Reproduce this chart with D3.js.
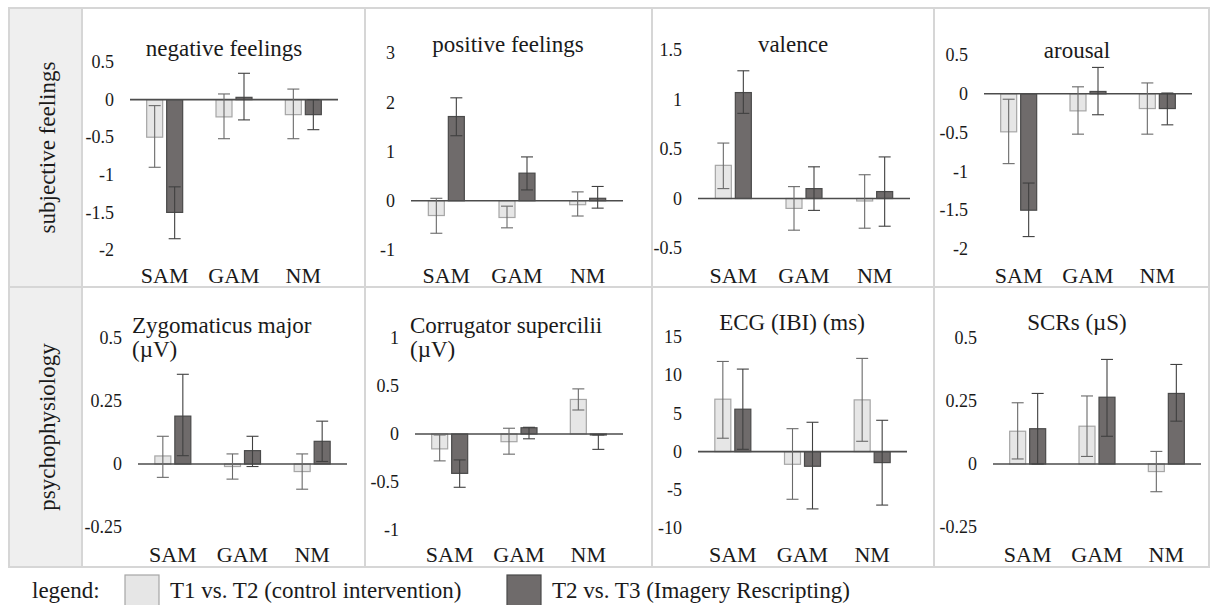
<!DOCTYPE html>
<html>
<head>
<meta charset="utf-8">
<script src="https://cdn.jsdelivr.net/npm/d3@7"></script>
<style>
  body { margin: 0; background: #fff; }
</style>
</head>
<body>
<div id="chart"></div>
<script>
// categorias e séries
const categories = ["SAM", "GAM", "NM"];
const seriesNames = ["T1 vs. T2 (control intervention)", "T2 vs. T3 (Imagery Rescripting)"];
const rowLabels = ["subjective feelings", "psychophysiology"];

const titles = [
    ["negative feelings"], ["positive feelings"], ["valence"], ["arousal"],
    ["Zygomaticus major", "(µV)"], ["Corrugator supercilii", "(µV)"], ["ECG (IBI) (ms)"], ["SCRs (µS)"]
];

const yDomains = [[-2, 0.5], [-1, 3], [-0.5, 1.5], [-2, 0.5], [-0.25, 0.5], [-1, 1], [-10, 15], [-0.25, 0.5]];
const yTicks = [
    [0.5, 0, -0.5, -1, -1.5, -2], [3, 2, 1, 0, -1], [1.5, 1, 0.5, 0, -0.5], [0.5, 0, -0.5, -1, -1.5, -2],
    [0.5, 0.25, 0, -0.25], [1, 0.5, 0, -0.5, -1], [15, 10, 5, 0, -5, -10], [0.5, 0.25, 0, -0.25]
];

// médias (SAM, GAM, NM)
const meanT1 = [
    [-0.50, -0.23, -0.20], [-0.30, -0.34, -0.08], [0.335, -0.10, -0.025], [-0.49, -0.22, -0.19],
    [0.032, -0.01, -0.03], [-0.155, -0.08, 0.36], [6.86, -1.66, 6.77], [0.13, 0.15, -0.03]
];
const meanT2 = [
    [-1.50, 0.03, -0.20], [1.71, 0.56, 0.05], [1.07, 0.10, 0.07], [-1.50, 0.03, -0.19],
    [0.19, 0.053, 0.09], [-0.41, 0.065, -0.01], [5.55, -1.92, -1.44], [0.14, 0.265, 0.28]
];
// limites das barras de erro [baixo, cima]
const errT1 = [
    [[-0.90, -0.08], [-0.52, 0.075], [-0.52, 0.14]],
    [[-0.66, 0.05], [-0.55, -0.11], [-0.31, 0.18]],
    [[0.10, 0.56], [-0.32, 0.12], [-0.30, 0.24]],
    [[-0.90, -0.07], [-0.52, 0.09], [-0.52, 0.14]],
    [[-0.053, 0.11], [-0.06, 0.04], [-0.10, 0.04]],
    [[-0.28, -0.01], [-0.21, 0.06], [0.25, 0.47]],
    [[1.75, 11.8], [-6.24, 3.0], [1.35, 12.2]],
    [[0.02, 0.243], [0.03, 0.27], [-0.11, 0.05]]
];
const errT2 = [
    [[-1.85, -1.16], [-0.27, 0.35], [-0.40, 0.0]],
    [[1.32, 2.09], [0.22, 0.89], [-0.15, 0.29]],
    [[0.86, 1.29], [-0.12, 0.32], [-0.28, 0.42]],
    [[-1.84, -1.15], [-0.27, 0.34], [-0.40, 0.01]],
    [[0.033, 0.356], [-0.01, 0.11], [0.01, 0.17]],
    [[-0.555, -0.27], [-0.05, 0.07], [-0.16, -0.01]],
    [[0.3, 10.8], [-7.5, 3.84], [-7.0, 4.1]],
    [[0.0, 0.28], [0.11, 0.415], [0.17, 0.395]]
];

// layout dos painéis (pixels)
const FONT = "'Liberation Serif', 'Tinos', 'DejaVu Serif', 'Times New Roman', serif";
const colEdges = [82, 365, 652, 934, 1209];
const rowEdges = [8, 287, 567];
const plotBox = [
    { x0: 130, x1: 338, y0: 62, y1: 250 },
    { x0: 411, x1: 623, y0: 53, y1: 250 },
    { x0: 698, x1: 910, y0: 50, y1: 248 },
    { x0: 984, x1: 1192, y0: 55, y1: 249 },
    { x0: 138, x1: 347, y0: 338, y1: 527 },
    { x0: 415, x1: 623, y0: 338, y1: 530 },
    { x0: 698, x1: 907, y0: 337, y1: 528 },
    { x0: 993, x1: 1201, y0: 338, y1: 527 }
];
const titlePos = [
    { x: 224, y: 56, anchor: "middle" }, { x: 508, y: 52, anchor: "middle" },
    { x: 793, y: 52, anchor: "middle" }, { x: 1077, y: 58, anchor: "middle" },
    { x: 132, y: 333, anchor: "start" }, { x: 410, y: 333, anchor: "start" },
    { x: 792, y: 330, anchor: "middle" }, { x: 1077, y: 330, anchor: "middle" }
];
const catLabelY = [283, 562];

const colors = { fill: ["#e6e6e6", "#6f6b6b"], stroke: ["#a6a6a6", "#4a4a4a"], err: ["#6a6a6a", "#404040"] };

const svg = d3.select("#chart").append("svg")
    .attr("width", 1211)
    .attr("height", 605)
    .attr("font-family", FONT)
    .style("font-family", FONT);

// grelha
const grid = svg.append("g");
grid.append("rect")
    .attr("x", 9).attr("y", rowEdges[0])
    .attr("width", colEdges[0] - 9).attr("height", rowEdges[2] - rowEdges[0])
    .attr("fill", "#efefef");
grid.append("rect")
    .attr("x", 9).attr("y", rowEdges[0])
    .attr("width", colEdges[4] - 9).attr("height", rowEdges[2] - rowEdges[0])
    .attr("fill", "none").attr("stroke", "#d6d6d6").attr("stroke-width", 2);
grid.selectAll("line.v").data(colEdges.slice(0, 4)).enter().append("line")
    .attr("x1", d => d).attr("x2", d => d)
    .attr("y1", rowEdges[0]).attr("y2", rowEdges[2])
    .attr("stroke", "#d6d6d6").attr("stroke-width", 2);
grid.append("line")
    .attr("x1", 9).attr("x2", colEdges[4])
    .attr("y1", rowEdges[1]).attr("y2", rowEdges[1])
    .attr("stroke", "#d6d6d6").attr("stroke-width", 2);

// texto com a fonte serifada
function addText(sel, size) {
    return sel.append("text")
        .attr("fill", "#1a1a1a")
        .style("font-family", FONT)
        .style("font-size", size + "px");
}

// rótulos das linhas
rowLabels.forEach((lab, r) => {
    const cy = (rowEdges[r] + rowEdges[r + 1]) / 2;
    addText(svg, 23)
        .attr("transform", `translate(47,${cy}) rotate(-90)`)
        .attr("text-anchor", "middle")
        .attr("dominant-baseline", "central")
        .text(lab);
});

// painéis
titles.forEach((title, i) => {
    const box = plotBox[i];
    const row = i < 4 ? 0 : 1;
    const g = svg.append("g");

    const x = d3.scaleBand()
        .domain(categories)
        .range([box.x0, box.x1]);
    const xs = d3.scaleBand()
        .domain([0, 1])
        .range([-18, 18])
        .paddingInner(0.2);
    const y = d3.scaleLinear()
        .domain(yDomains[i])
        .range([box.y1, box.y0]);

    // eixo Y (só rótulos)
    const yAxis = g.append("g")
        .attr("transform", `translate(${box.x0 - 16},0)`)
        .call(d3.axisLeft(y).tickValues(yTicks[i]).tickSize(0).tickPadding(0).tickFormat(d => String(d)));
    yAxis.attr("font-family", FONT);
    yAxis.select(".domain").remove();
    yAxis.selectAll("text")
        .attr("fill", "#1a1a1a")
        .style("font-size", "18px")
        .style("font-family", FONT);

    // barras
    const bars = [];
    categories.forEach((c, ci) => {
        bars.push({ c, s: 0, v: meanT1[i][ci], lo: errT1[i][ci][0], hi: errT1[i][ci][1] });
        bars.push({ c, s: 1, v: meanT2[i][ci], lo: errT2[i][ci][0], hi: errT2[i][ci][1] });
    });
    const bx = d => x(d.c) + x.bandwidth() / 2 + xs(d.s);

    g.selectAll("rect.bar").data(bars).enter().append("rect")
        .attr("x", bx)
        .attr("y", d => y(Math.max(0, d.v)))
        .attr("width", xs.bandwidth())
        .attr("height", d => Math.abs(y(d.v) - y(0)))
        .attr("fill", d => colors.fill[d.s])
        .attr("stroke", d => colors.stroke[d.s])
        .attr("stroke-width", 1.2);

    // linha do zero
    g.append("line")
        .attr("x1", box.x0).attr("x2", box.x1)
        .attr("y1", y(0)).attr("y2", y(0))
        .attr("stroke", "#4d4d4d").attr("stroke-width", 1.6);

    // barras de erro
    const ex = d => bx(d) + xs.bandwidth() / 2;
    const errG = g.selectAll("g.err").data(bars).enter().append("g")
        .attr("stroke", d => colors.err[d.s])
        .attr("stroke-width", 1.1);
    errG.append("line")
        .attr("x1", ex).attr("x2", ex)
        .attr("y1", d => y(d.lo)).attr("y2", d => y(d.hi));
    errG.append("line")
        .attr("x1", d => ex(d) - 6).attr("x2", d => ex(d) + 6)
        .attr("y1", d => y(d.lo)).attr("y2", d => y(d.lo));
    errG.append("line")
        .attr("x1", d => ex(d) - 6).attr("x2", d => ex(d) + 6)
        .attr("y1", d => y(d.hi)).attr("y2", d => y(d.hi));

    // categorias
    categories.forEach(c => {
        addText(g, 22)
            .attr("x", x(c) + x.bandwidth() / 2)
            .attr("y", catLabelY[row])
            .attr("text-anchor", "middle")
            .text(c);
    });

    // título
    const tp = titlePos[i];
    title.forEach((line, li) => {
        addText(g, 23)
            .attr("x", tp.x)
            .attr("y", tp.y + li * 24)
            .attr("text-anchor", tp.anchor)
            .text(line);
    });
});

// legenda
const legend = svg.append("g");
addText(legend, 23)
    .attr("x", 32).attr("y", 598)
    .text("legend:");
const legendX = [125, 507];
seriesNames.forEach((name, s) => {
    legend.append("rect")
        .attr("x", legendX[s]).attr("y", 575)
        .attr("width", 34).attr("height", 40)
        .attr("fill", colors.fill[s])
        .attr("stroke", colors.stroke[s])
        .attr("stroke-width", 1.2);
    addText(legend, 23)
        .attr("x", legendX[s] + 45).attr("y", 598)
        .text(name);
});
</script>
</body>
</html>
